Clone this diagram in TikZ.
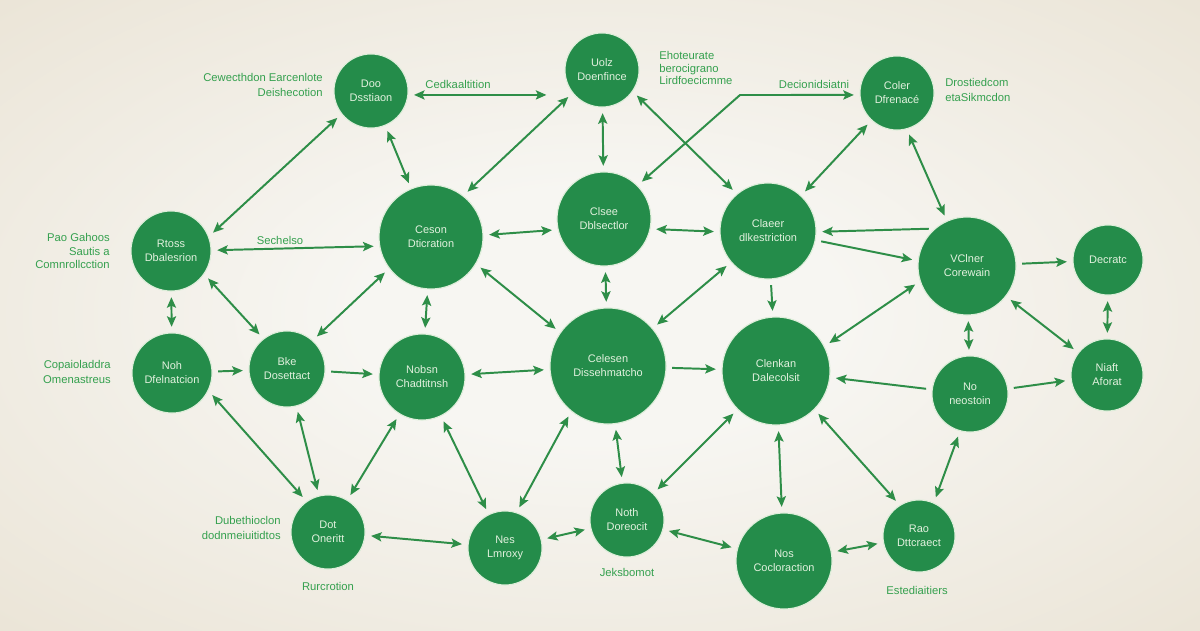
\documentclass[tikz,border=0pt]{standalone}
\usepackage{fontspec}
\setmainfont{Liberation Sans}
\usepackage{xcolor}
\usepackage{tikz}
\usetikzlibrary{arrows.meta, positioning, calc}
\definecolor{nodegreen}{RGB}{36,140,74}
\definecolor{ringgreen}{RGB}{222,238,218}
\definecolor{nodetext}{RGB}{226,241,222}
\definecolor{arrowgreen}{RGB}{46,142,72}
\definecolor{labelgreen}{RGB}{52,160,78}
\definecolor{bgin}{RGB}{247,246,242}
\definecolor{bgout}{RGB}{228,219,200}
\pgfdeclareradialshading{bgglow}{\pgfpoint{0bp}{0bp}}{color(0bp)=(bgin); color(10bp)=(bgin); color(50bp)=(bgout)}
\tikzset{
	gnode/.style={circle, fill=nodegreen, draw=ringgreen, line width=0.8pt, inner sep=0pt, minimum size=#1, align=center, text=nodetext, font=\fontsize{7.8}{10}\selectfont},
	glabel/.style={text=labelgreen, font=\fontsize{8}{10}\selectfont, inner sep=0pt},
	linkarr/.style={->, line width=1.4pt, draw=arrowgreen, shorten >=4pt, shorten <=4pt},
	bothlink/.style={linkarr, <->},
}

\begin{document}
\begin{tikzpicture}[
				x=0.025cm, y=-0.025cm,
				>={Stealth[length=7.5pt, width=6.5pt, inset=1.5pt]}
				]
				\useasboundingbox (0,0) rectangle (1200,630);
				\shade[shading=bgglow] (0,0) rectangle (1200,630);
				% top row
				\node[gnode=1.85cm] (doo) at (371,91) {Doo\\Dsstiaon};
				\node[gnode=1.85cm] (uolz) at (602,70) {Uolz\\Doenfince};
				\node[gnode=1.85cm] (coler) at (897,93) {Coler\\Dfrenacé};
				% second row
				\node[gnode=2.0cm] (rtoss) at (171,251) {Rtoss\\Dbalesrion};
				\node[gnode=2.6cm] (ceson) at (431,237) {Ceson\\Dticration};
				\node[gnode=2.35cm] (clsee) at (604,219) {Clsee\\Dblsectlor};
				\node[gnode=2.4cm] (claer) at (768,231) {Claeer\\dlkestriction};
				\node[gnode=2.45cm] (vclner) at (967,266) {VClner\\Corewain};
				\node[gnode=1.75cm] (decratc) at (1108,260) {Decratc};
				% third row
				\node[gnode=2.0cm] (noh) at (172,373) {Noh\\Dfelnatcion};
				\node[gnode=1.9cm] (bke) at (287,369) {Bke\\Dosettact};
				\node[gnode=2.15cm] (nobsn) at (422,377) {Nobsn\\Chadtitnsh};
				\node[gnode=2.9cm] (celesen) at (608,366) {Celesen\\Dissehmatcho};
				\node[gnode=2.7cm] (clenkan) at (776,371) {Clenkan\\Dalecolsit};
				\node[gnode=1.9cm] (neostoin) at (970,394) {No\\neostoin};
				\node[gnode=1.8cm] (niaft) at (1107,375) {Niaft\\Aforat};
				% bottom row
				\node[gnode=1.85cm] (dot) at (328,532) {Dot\\Oneritt};
				\node[gnode=1.85cm] (nes) at (505,548) {Nes\\Lmroxy};
				\node[gnode=1.85cm] (noth) at (627,520) {Noth\\Doreocit};
				\node[gnode=2.4cm] (nos) at (784,561) {Nos\\Cocloraction};
				\node[gnode=1.8cm] (rao) at (919,536) {Rao\\Dttcraect};
				% labels
				\node[glabel, anchor=east, align=right] (lbcew) at (323,85) {Cewecthdon Earcenlote\\Deishecotion};
				\node[glabel] (lbced) at (458,84) {Cedkaaltition};
				\node[glabel, anchor=west, align=left, font=\fontsize{8}{8.8}\selectfont] (lbeho) at (659,68) {Ehoteurate\\berocigrano\\Lirdfoecicmme};
				\node[glabel] (lbdec) at (814,84) {Decionidsiatni};
				\node[glabel, anchor=west, align=left] (lbdro) at (945,90) {Drostiedcom\\etaSikmcdon};
				\node[glabel, anchor=east, align=right, font=\fontsize{8}{9.6}\selectfont] (lbpao) at (110,251) {Pao Gahoos\\Sautis a\\Comnrollcction};
				\node[glabel] (lbsec) at (280,240) {Sechelso};
				\node[glabel, anchor=east, align=right] (lbcop) at (111,372) {Copaioladdra\\Omenastreus};
				\node[glabel, anchor=east, align=right] (lbdub) at (281,528) {Dubethioclon\\dodnmeiuitidtos};
				\node[glabel] (lbrur) at (328,586) {Rurcrotion};
				\node[glabel] (lbjek) at (627,572) {Jeksbomot};
				\node[glabel] (lbest) at (917,590) {Estediaitiers};
				% connectors
				\coordinate (kink) at (740,95);
				\draw[bothlink, shorten >=0.45cm] (doo.-6) -- (doo.-6 -| uolz.west);
				\draw[bothlink] (rtoss.21) -- (doo.218);
				\draw[bothlink] (doo) -- (ceson);
				\draw[bothlink] (uolz.218) -- (ceson.52);
				\draw[bothlink] (uolz) -- (clsee);
				\draw[bothlink] (uolz.-35) -- (claer.130);
				\draw[bothlink] (clsee.45) -- (kink) -- (coler.183);
				\draw[bothlink] (coler) -- (claer);
				\draw[bothlink] (coler.-75) -- (vclner.114);
				\draw[bothlink] (rtoss.1) -- (ceson.190);
				\draw[bothlink] (rtoss) -- (noh);
				\draw[bothlink] (rtoss.-35) -- (bke.128);
				\draw[bothlink] (ceson.217) -- (bke.48);
				\draw[bothlink] (ceson) -- (nobsn);
				\draw[bothlink] (ceson.2) -- (clsee.193);
				\draw[bothlink] (ceson.-31) -- (celesen.145);
				\draw[bothlink] (clsee) -- (celesen);
				\draw[bothlink] (clsee.-12) -- (claer.181);
				\draw[bothlink] (celesen) -- (claer);
				\draw[linkarr] (vclner.131) -- (claer.-1);
				\draw[linkarr] (claer.-11) -- (vclner.174);
				\draw[linkarr] (vclner) -- (decratc);
				\draw[bothlink] (clenkan.27) -- (vclner.198);
				\draw[linkarr] (claer) -- (clenkan);
				\draw[bothlink] (vclner) -- (neostoin);
				\draw[bothlink] (vclner) -- (niaft);
				\draw[bothlink] (decratc) -- (niaft);
				\draw[linkarr] (neostoin) -- (clenkan);
				\draw[linkarr] (neostoin) -- (niaft);
				\draw[bothlink] (nobsn) -- (celesen);
				\draw[linkarr] (celesen) -- (clenkan);
				\draw[linkarr] (bke) -- (nobsn);
				\draw[linkarr] (noh) -- (bke);
				\draw[bothlink] (noh.-26) -- (dot.125);
				\draw[bothlink] (bke) -- (dot);
				\draw[bothlink] (nobsn) -- (dot);
				\draw[bothlink] (nobsn) -- (nes);
				\draw[bothlink] (celesen.231) -- (nes.72);
				\draw[bothlink] (celesen) -- (noth);
				\draw[bothlink] (clenkan) -- (noth);
				\draw[bothlink] (clenkan) -- (nos);
				\draw[bothlink] (clenkan.-45) -- (rao.122);
				\draw[bothlink] (neostoin.255) -- (rao.66);
				\draw[bothlink] (dot) -- (nes);
				\draw[bothlink] (nes) -- (noth);
				\draw[bothlink] (noth) -- (nos);
				\draw[bothlink] (nos) -- (rao);
			\end{tikzpicture}
\end{document}
